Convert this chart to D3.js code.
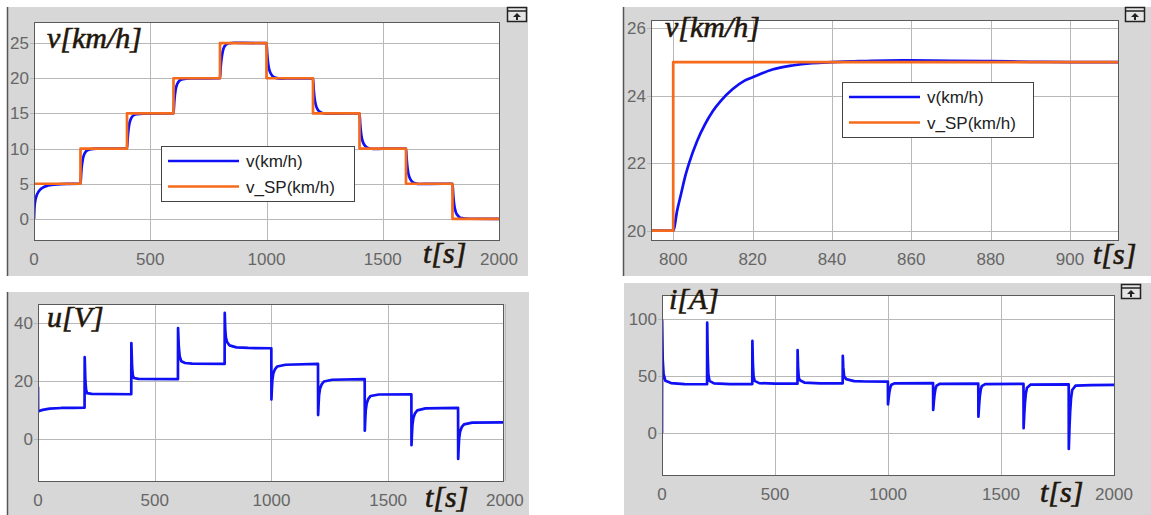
<!DOCTYPE html>
<html>
<head>
<meta charset="utf-8">
<script src="https://cdn.jsdelivr.net/npm/d3@7"></script>
<style>
  body { margin: 0; background: #fff; }
  svg { display: block; }
</style>
</head>
<body>
<svg id="scopes" width="1151" height="515"></svg>
<script>
"use strict";

// ---- data ----
// setpoint steps (every 200 s)
var spTimes = [0, 200, 400, 600, 800, 1000, 1200, 1400, 1600, 1800, 2000];
var spValues = [5, 10, 15, 20, 25, 20, 15, 10, 5, 0, 0];

// measured speed, full run
var vTimes = [0, 2, 5, 10, 20, 35, 60, 100, 150, 199,
  200, 203, 206, 210, 215, 225, 240, 270, 399,
  400, 403, 406, 410, 415, 425, 440, 470, 599,
  600, 603, 606, 610, 615, 625, 640, 670, 799,
  800, 803, 806, 810, 815, 825, 840, 860, 900, 999,
  1000, 1003, 1006, 1010, 1015, 1025, 1040, 1060, 1100, 1199,
  1200, 1203, 1206, 1210, 1215, 1225, 1240, 1260, 1300, 1399,
  1400, 1403, 1406, 1410, 1415, 1425, 1440, 1460, 1500, 1599,
  1600, 1603, 1606, 1610, 1615, 1625, 1640, 1660, 1700, 1799,
  1800, 1803, 1806, 1810, 1815, 1825, 1840, 1870, 2000];
var vValues = [0, 1.6, 2.5, 3.2, 3.9, 4.4, 4.75, 4.92, 4.98, 5.0,
  5.0, 6.5, 7.6, 8.5, 9.1, 9.65, 9.88, 9.98, 10.0,
  10.0, 11.5, 12.6, 13.5, 14.1, 14.65, 14.88, 14.98, 15.0,
  15.0, 16.5, 17.6, 18.5, 19.1, 19.65, 19.88, 19.98, 20.0,
  20.0, 21.6, 22.6, 23.5, 24.2, 24.75, 24.98, 25.05, 25.02, 25.0,
  25.0, 23.5, 22.4, 21.5, 20.9, 20.35, 20.05, 19.95, 19.98, 20.0,
  20.0, 18.5, 17.4, 16.5, 15.9, 15.35, 15.05, 14.95, 14.98, 15.0,
  15.0, 13.5, 12.4, 11.5, 10.9, 10.35, 10.05, 9.95, 9.98, 10.0,
  10.0, 8.5, 7.4, 6.5, 5.9, 5.35, 5.05, 4.96, 4.98, 5.0,
  5.0, 3.5, 2.4, 1.5, 0.9, 0.4, 0.1, 0.02, 0.0];

// zoom on the 800 s step
var zoomSpTimes = [794.4, 800, 912.1];
var zoomSpValues = [20, 25, 25];
var zoomTimes = [794.4, 800, 801, 802, 803, 804, 806, 808, 810, 812, 815, 818, 820, 825, 830, 835, 840, 845, 850, 860, 870, 880, 890, 900, 912.1];
var zoomValues = [20, 20, 20.6, 21.1, 21.6, 22.0, 22.65, 23.15, 23.55, 23.85, 24.2, 24.45, 24.55, 24.78, 24.9, 24.97, 25.0, 25.02, 25.04, 25.05, 25.04, 25.03, 25.01, 25.0, 25.0];

// armature voltage
var uTimes = [0, 0.5, 5, 20, 50, 100, 150, 199.5,
  200, 203, 206, 210, 230, 399.5,
  400, 403, 406, 411, 430, 599.5,
  600, 603, 607, 614, 630, 660, 799.5,
  800, 802, 805, 810, 820, 850, 900, 999.5,
  1000, 1002, 1004, 1008, 1015, 1025, 1060, 1199.5,
  1200, 1202, 1204, 1208, 1215, 1225, 1260, 1399.5,
  1400, 1402, 1404, 1408, 1415, 1425, 1460, 1599.5,
  1600, 1602, 1604, 1608, 1615, 1625, 1660, 1799.5,
  1800, 1802, 1804, 1808, 1815, 1825, 1860, 2000];
var uValues = [18, 9.4, 9.6, 10.0, 10.4, 10.65, 10.7, 10.75,
  28.2, 20, 17, 15.8, 15.5, 15.4,
  33.1, 25, 22, 21.0, 20.7, 20.6,
  38.3, 32, 28.5, 26.8, 26.2, 26.0, 25.9,
  43.5, 38, 35, 33.5, 32.3, 31.6, 31.4, 31.3,
  13.6, 17.5, 20.3, 22.6, 24.0, 25.0, 25.6, 25.9,
  8.2, 12, 15.0, 17.3, 18.8, 19.8, 20.4, 20.6,
  2.8, 6.8, 9.8, 12.2, 13.8, 14.8, 15.3, 15.4,
  -2.2, 1.8, 4.8, 7.2, 8.8, 9.8, 10.5, 10.7,
  -7, -3, 0, 2.4, 4.0, 5.0, 5.6, 5.7];

// armature current
var iTimes = [0, 0.5, 3, 7, 15, 40, 100, 199.5,
  200, 202, 205, 210, 230, 300, 399.5,
  400, 402, 405, 410, 430, 500, 599.5,
  600, 602, 605, 610, 630, 700, 799.5,
  800, 802, 806, 815, 850, 900, 999.5,
  1000, 1003, 1006, 1010, 1015, 1030, 1199.5,
  1200, 1203, 1206, 1210, 1215, 1230, 1399.5,
  1400, 1403, 1406, 1410, 1415, 1430, 1599.5,
  1600, 1603, 1606, 1610, 1615, 1630, 1799.5,
  1800, 1803, 1806, 1810, 1815, 1830, 1900, 2000];
var iValues = [0, 99, 65, 52, 46, 44, 43.2, 43.0,
  97, 70, 52, 46, 43.8, 43.2, 43.2,
  81, 62, 50, 46, 44, 43.5, 43.5,
  73, 58, 49, 46.5, 44.5, 43.8, 43.8,
  68, 58, 50, 47.5, 45.8, 45.4, 45.3,
  25.4, 31, 36, 40, 42.5, 43.8, 44,
  20.5, 28, 34, 39, 41.8, 43.4, 43.6,
  14.6, 24, 32, 38, 41.3, 43.1, 43.3,
  4.4, 17, 27, 35, 40, 42.6, 42.9,
  -13.7, 5, 19, 31, 38, 41.8, 42.3, 42.4];

var xTicksFull = [0, 500, 1000, 1500, 2000];
var xTicksZoom = [800, 820, 840, 860, 880, 900];
var vTicks = [0, 5, 10, 15, 20, 25];
var vZoomTicks = [20, 22, 24, 26];
var uTicks = [0, 20, 40];
var iTicks = [0, 50, 100];

var blue = "#1010f5";
var orange = "#f66a1c";
var svg = d3.select("#scopes");

function zip(ts, vs) {
  return ts.map(function (t, k) { return [t, vs[k]]; });
}

function drawScope(o) {
  var g = svg.append("g");

  // grey scope window
  g.append("rect").attr("x", o.box[0]).attr("y", o.box[1])
    .attr("width", o.box[2] - o.box[0]).attr("height", o.box[3] - o.box[1])
    .attr("fill", "#d7d7d7");
  if (o.edge) {
    g.append("line").attr("x1", o.box[0] + 0.5).attr("x2", o.box[0] + 0.5)
      .attr("y1", o.box[1]).attr("y2", o.box[3])
      .attr("stroke", "#555").attr("stroke-width", 1.5);
  }

  var x = d3.scaleLinear().domain(o.xDomain).range([o.plot[0], o.plot[2]]);
  var y = d3.scaleLinear().domain(o.yDomain).range([o.plot[3], o.plot[1]]);

  g.append("rect").attr("x", o.plot[0]).attr("y", o.plot[1])
    .attr("width", o.plot[2] - o.plot[0]).attr("height", o.plot[3] - o.plot[1])
    .attr("fill", "#fff");

  // grid
  g.selectAll(".gx").data(o.xTicks).enter().append("line")
    .attr("x1", function (d) { return Math.round(x(d)) + 0.5; })
    .attr("x2", function (d) { return Math.round(x(d)) + 0.5; })
    .attr("y1", o.plot[1]).attr("y2", o.plot[3])
    .attr("stroke", "#b8b8b8").attr("stroke-width", 1);
  g.selectAll(".gy").data(o.yTicks).enter().append("line")
    .attr("x1", o.plot[0] - 4).attr("x2", o.plot[2])
    .attr("y1", function (d) { return Math.round(y(d)) + 0.5; })
    .attr("y2", function (d) { return Math.round(y(d)) + 0.5; })
    .attr("stroke", "#b8b8b8").attr("stroke-width", 1);

  // tick labels
  g.selectAll(".ty").data(o.yTicks).enter().append("text")
    .attr("x", o.plot[0] - 5).attr("y", function (d) { return y(d) + 6; })
    .attr("text-anchor", "end")
    .style("font", "17px 'Liberation Sans', Arial, sans-serif").style("fill", "#666")
    .text(function (d) { return d; });
  g.selectAll(".tx").data(o.xTicks).enter().append("text")
    .attr("x", function (d) { return x(d); }).attr("y", o.plot[3] + 25)
    .attr("text-anchor", "middle")
    .style("font", "17px 'Liberation Sans', Arial, sans-serif").style("fill", "#666")
    .text(function (d) { return d; });

  // traces
  var clipId = "clip" + o.id;
  g.append("clipPath").attr("id", clipId).append("rect")
    .attr("x", o.plot[0]).attr("y", o.plot[1])
    .attr("width", o.plot[2] - o.plot[0]).attr("height", o.plot[3] - o.plot[1]);
  var plotArea = g.append("g").attr("clip-path", "url(#" + clipId + ")");
  o.series.forEach(function (s) {
    var line = d3.line().curve(s.curve)
      .x(function (d) { return x(d[0]); })
      .y(function (d) { return y(d[1]); });
    plotArea.append("path").attr("d", line(s.data))
      .attr("fill", "none").attr("stroke", s.color)
      .attr("stroke-width", 2.7).attr("stroke-linejoin", "round");
  });

  g.append("rect").attr("x", o.plot[0] + 0.5).attr("y", o.plot[1] + 0.5)
    .attr("width", o.plot[2] - o.plot[0]).attr("height", o.plot[3] - o.plot[1])
    .attr("fill", "none").attr("stroke", "#5a5a5a").attr("stroke-width", 1);

  // italic labels
  [[o.title[0], o.title[1], o.title[2]], ["t[s]", o.tLabel[0], o.tLabel[1]]].forEach(function (lab) {
    g.append("text").attr("x", lab[1]).attr("y", lab[2])
      .style("font", "italic 30px 'Liberation Serif', 'Times New Roman', serif")
      .style("fill", "#1f160c").style("stroke", "#1f160c").style("stroke-width", 0.6)
      .text(lab[0]);
  });

  // legend
  if (o.legend) {
    var L = o.legend;
    g.append("rect").attr("x", L[0] + 0.5).attr("y", L[1] + 0.5)
      .attr("width", L[2] - L[0]).attr("height", L[3] - L[1])
      .attr("fill", "#fff").attr("stroke", "#444").attr("stroke-width", 1);
    [["v(km/h)", blue], ["v_SP(km/h)", orange]].forEach(function (e, k) {
      var yy = L[1] + 15 + k * 25.5;
      g.append("line").attr("x1", L[0] + 7).attr("x2", L[0] + 78)
        .attr("y1", yy).attr("y2", yy).attr("stroke", e[1]).attr("stroke-width", 2.5);
      g.append("text").attr("x", L[0] + 85).attr("y", yy + 6)
        .style("font", "17px 'Liberation Sans', Arial, sans-serif").style("fill", "#222")
        .text(e[0]);
    });
  }

  // little undock button
  if (o.icon) {
    var ic = g.append("g").attr("transform", "translate(" + o.icon[0] + "," + o.icon[1] + ")");
    ic.append("rect").attr("x", 0.5).attr("y", 0.5).attr("width", 19).attr("height", 14)
      .attr("fill", "#e4e4e4").attr("stroke", "#222").attr("stroke-width", 1.5);
    ic.append("line").attr("x1", 1).attr("x2", 19).attr("y1", 4).attr("y2", 4)
      .attr("stroke", "#222").attr("stroke-width", 1.5);
    ic.append("path").attr("d", "M10 6 L6 10 L14 10 Z M9 10 h2 v3 h-2 Z").attr("fill", "#222");
  }
}

drawScope({
  id: 1, box: [7, 7, 528, 276], edge: true, plot: [34, 22, 499, 240],
  xDomain: [0, 2000], yDomain: [-3, 28], xTicks: xTicksFull, yTicks: vTicks,
  series: [
    { data: zip(vTimes, vValues), color: blue, curve: d3.curveMonotoneX },
    { data: zip(spTimes, spValues), color: orange, curve: d3.curveStepAfter }
  ],
  title: ["v[km/h]", 47, 48], tLabel: [423, 263],
  legend: [161, 146, 354, 201], icon: [507, 7]
});

drawScope({
  id: 2, box: [623, 7, 1151, 276], edge: true, plot: [651, 20, 1118, 240],
  xDomain: [794.4, 912.1], yDomain: [19.72, 26.25], xTicks: xTicksZoom, yTicks: vZoomTicks,
  series: [
    { data: zip(zoomTimes, zoomValues), color: blue, curve: d3.curveMonotoneX },
    { data: zip(zoomSpTimes, zoomSpValues), color: orange, curve: d3.curveStepAfter }
  ],
  title: ["v[km/h]", 665, 37], tLabel: [1093, 264],
  legend: [842, 82, 1033, 137], icon: [1125, 7]
});

drawScope({
  id: 3, box: [7, 292, 529, 515], edge: true, plot: [38, 304, 503, 481],
  xDomain: [0, 1992], yDomain: [-14.6, 46.6], xTicks: xTicksFull, yTicks: uTicks,
  series: [
    { data: zip(uTimes, uValues), color: blue, curve: d3.curveLinear }
  ],
  title: ["u[V]", 47, 327], tLabel: [425, 507]
});

drawScope({
  id: 4, box: [624, 283, 1151, 515], edge: false, plot: [662, 295, 1114, 475],
  xDomain: [0, 2000], yDomain: [-36.6, 121.3], xTicks: xTicksFull, yTicks: iTicks,
  series: [
    { data: zip(iTimes, iValues), color: blue, curve: d3.curveLinear }
  ],
  title: ["i[A]", 669, 309], tLabel: [1040, 502], icon: [1121, 284]
});
</script>
</body>
</html>
